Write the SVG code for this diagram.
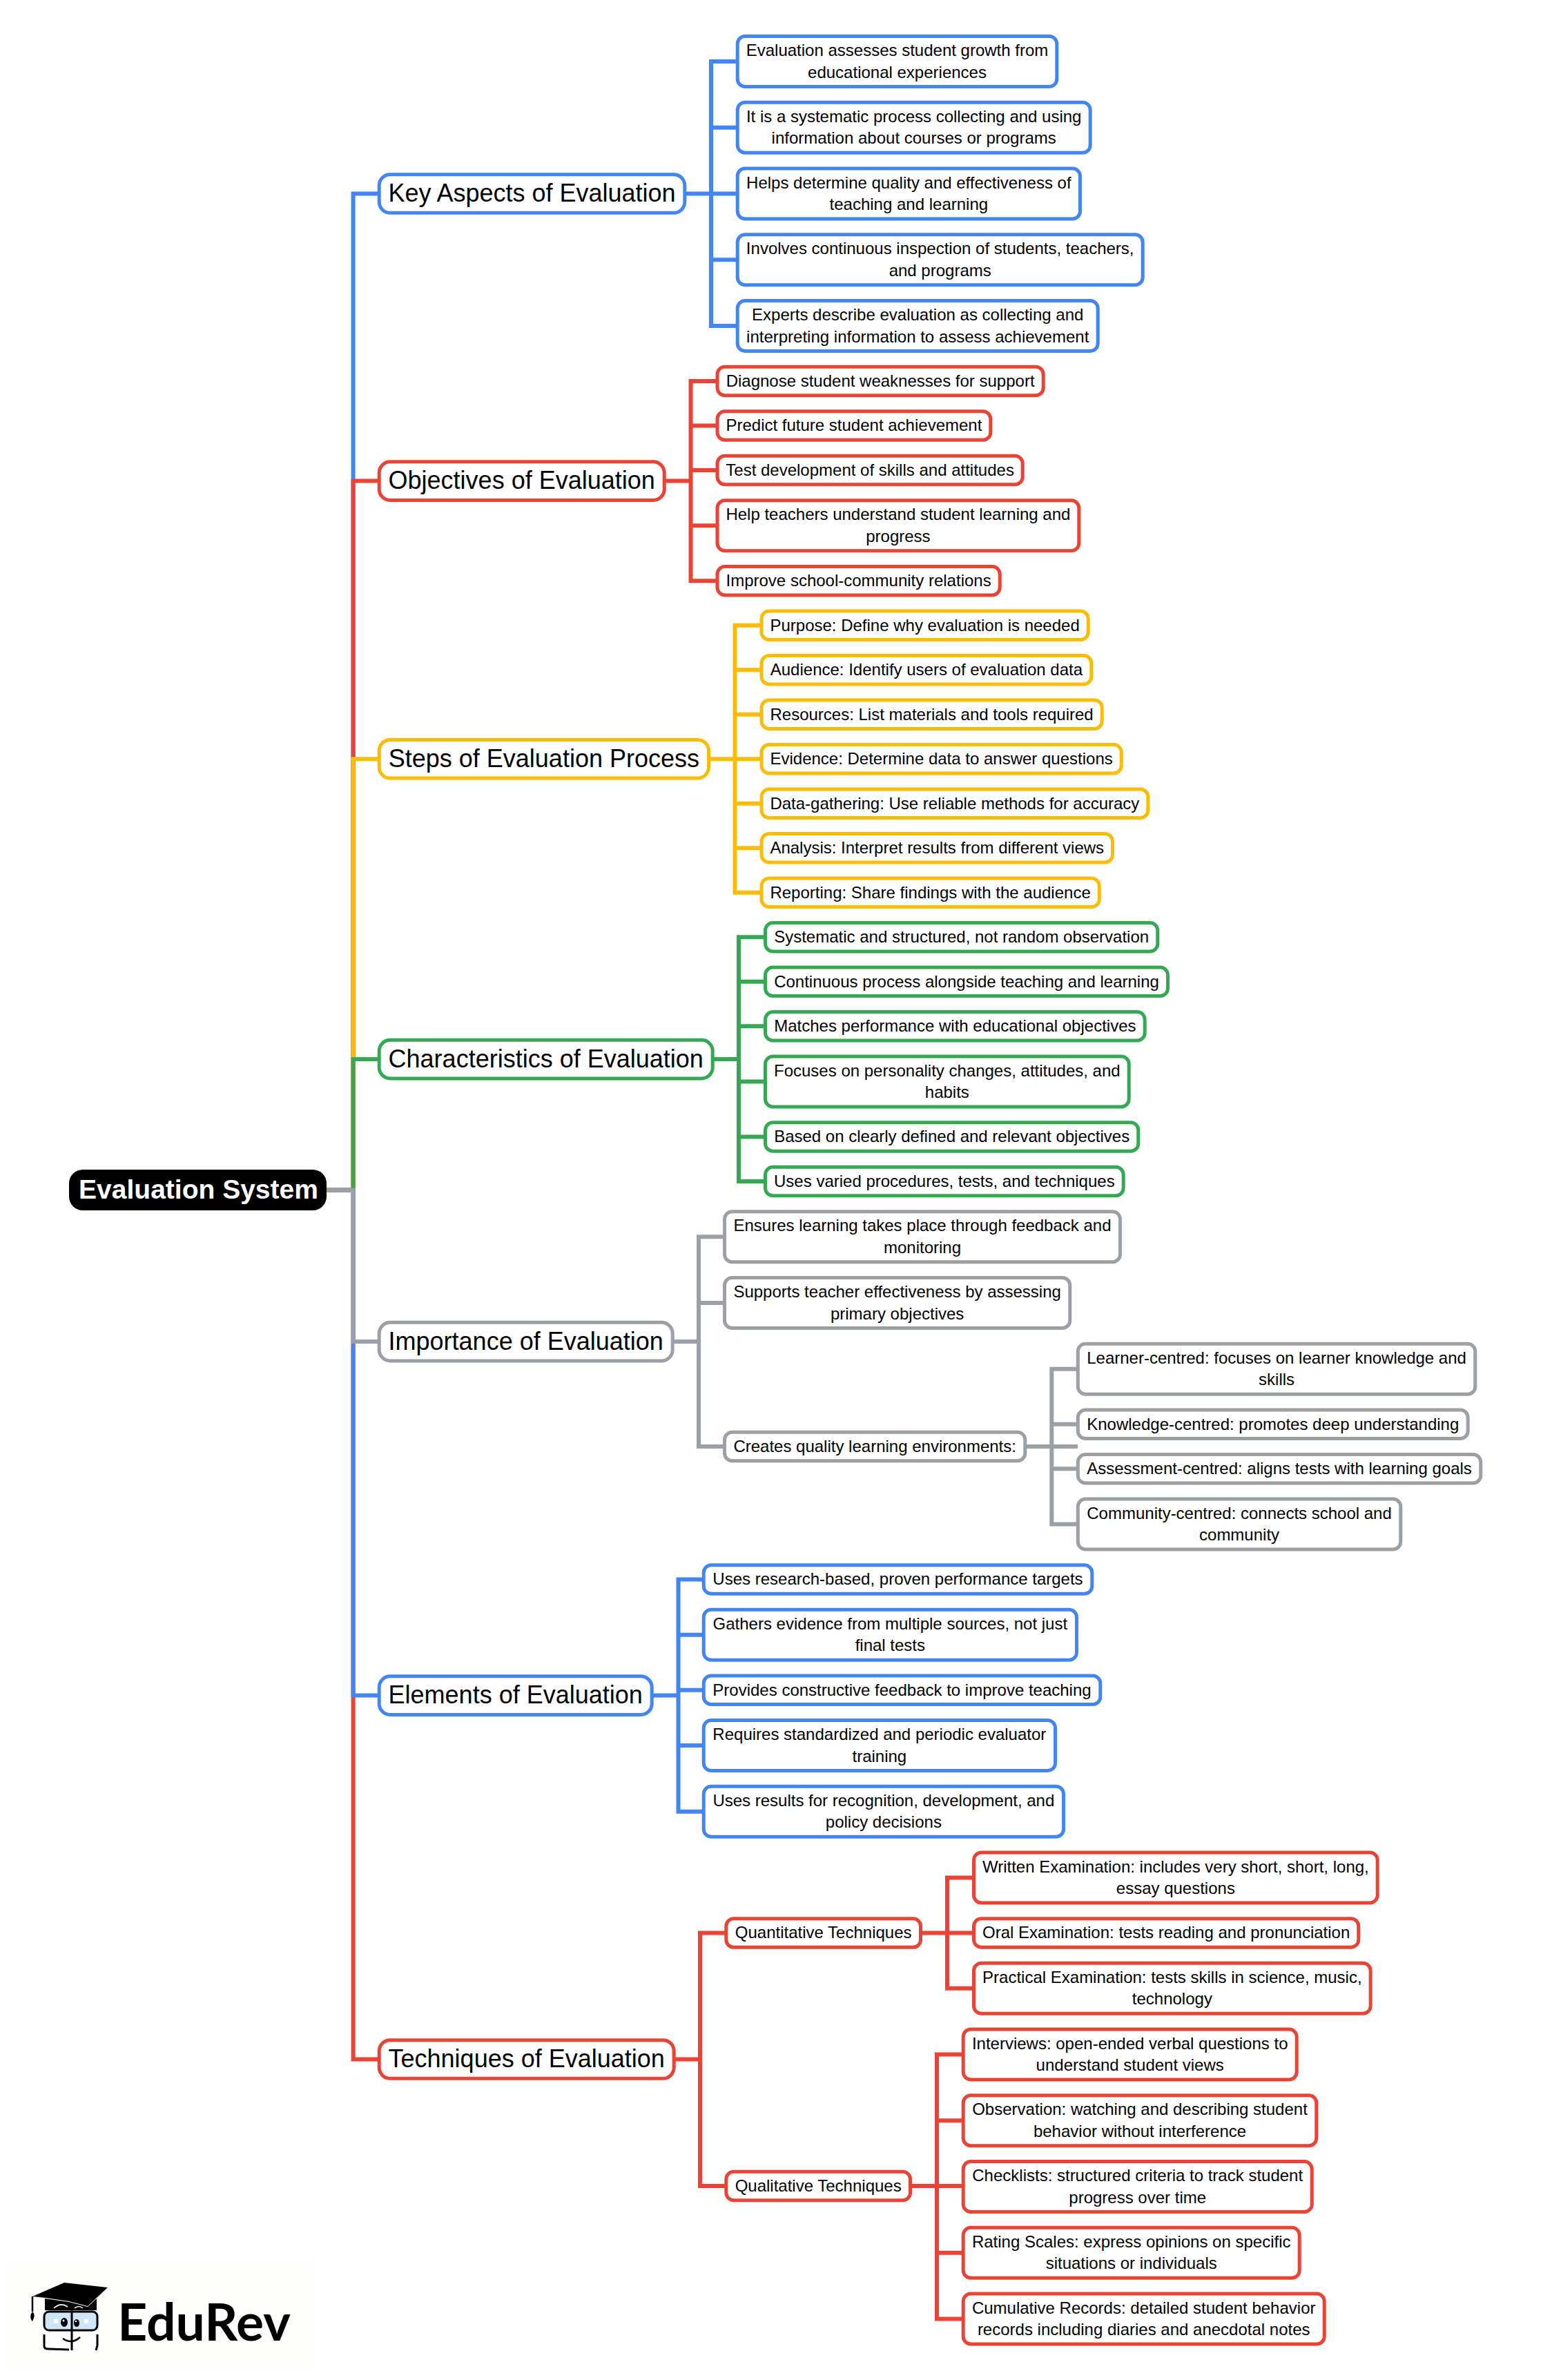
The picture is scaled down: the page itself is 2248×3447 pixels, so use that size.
<svg xmlns="http://www.w3.org/2000/svg" width="2248" height="3447" viewBox="0 0 2248 3447">
<style>
text{font-family:"Liberation Sans",Arial,sans-serif;fill:#000;text-anchor:middle}
.t{font-size:24px}
.m{font-size:36px}
.r{font-size:39px;font-weight:700;fill:#fff}
rect.b{fill:#fff;stroke-width:5;rx:11px;ry:11px}
rect.p{fill:#fff;stroke-width:5;rx:16px;ry:16px}
#connectors path{fill:none;stroke-width:6;stroke-linejoin:miter}
path.blue{stroke:#4285F4}path.red{stroke:#EA4335}path.yellow{stroke:#FBBC05}path.green{stroke:#34A853}path.gray{stroke:#9AA0A6}
g.blue rect{stroke:#4285F4}g.red rect{stroke:#EA4335}g.yellow rect{stroke:#FBBC05}g.green rect{stroke:#34A853}g.gray rect{stroke:#9AA0A6}
</style>
<rect width="2248" height="3447" fill="#fff"/>
<g id="connectors">
<path class="blue" d="M473 1723.7H511.6V280.5H550"/>
<path class="red" d="M473 1723.7H511.6V696.6H550"/>
<path class="yellow" d="M473 1723.7H511.6V1099.25H550"/>
<path class="green" d="M473 1723.7H511.6V1534.1H550"/>
<path class="red" d="M473 1723.7H511.6V2982.5H550"/>
<path class="blue" d="M473 1723.7H511.6V2455.6H550"/>
<path class="gray" d="M473 1723.7H511.6V1943.1H550"/>
<path class="blue" d="M990 280.5H1068M1068 89H1030V472H1068M1030 184.75H1068M1030 376.25H1068"/>
<path class="red" d="M960 696.6H1000.5M1039 552H1000.5V841.25H1039M1000.5 616.5H1039M1000.5 681H1039M1000.5 761.25H1039"/>
<path class="yellow" d="M1025 1099.25H1103M1103 905.75H1064.5V1292.75H1103M1064.5 970.25H1103M1064.5 1034.75H1103M1064.5 1163.75H1103M1064.5 1228.25H1103"/>
<path class="green" d="M1032 1534.1H1070M1108.5 1357.25H1070V1711H1108.5M1070 1421.75H1108.5M1070 1486.25H1108.5M1070 1566.5H1108.5M1070 1646.5H1108.5"/>
<path class="gray" d="M972 1943.1H1012M1050 1791.25H1012V2095H1050M1012 1887H1050"/>
<path class="gray" d="M1485 2095H1561M1561 1982.75H1523.3V2207.5H1561M1523.3 2062.75H1561M1523.3 2127.25H1561"/>
<path class="blue" d="M942 2455.6H982.5M1019 2287.5H982.5V2623.75H1019M982.5 2367.75H1019M982.5 2447.75H1019M982.5 2528H1019"/>
<path class="red" d="M975 2982.5H1014M1052 2799.6H1014V3166H1052"/>
<path class="red" d="M1333 2799.6H1410M1410 2719.5H1372V2879.75H1410"/>
<path class="red" d="M1319 3166H1395M1395 2975.5H1357V3358.5H1395M1357 3071.25H1395M1357 3262.75H1395"/>
</g>
<g id="root"><rect x="100" y="1694" width="373" height="59" rx="20" fill="#000"/><text class="r" x="287.5" y="1736">Evaluation System</text></g>

<g id="key" class="blue"><rect class="p" x="549.2" y="252.65" width="442.6" height="55.7"/><text class="m" x="770.5" y="292">Key Aspects of Evaluation</text></g>
<g id="k1" class="blue"><rect class="b" x="1068.2" y="52.5" width="462.6" height="73"/><text class="t" x="1299.5" y="81">Evaluation assesses student growth from</text><text class="t" x="1299.5" y="112.5">educational experiences</text></g>
<g id="k2" class="blue"><rect class="b" x="1068.2" y="148.25" width="511" height="73"/><text class="t" x="1323.7" y="176.75">It is a systematic process collecting and using</text><text class="t" x="1323.7" y="208.25">information about courses or programs</text></g>
<g id="k3" class="blue"><rect class="b" x="1068.2" y="244" width="496.3" height="73"/><text class="t" x="1316.35" y="272.5">Helps determine quality and effectiveness of</text><text class="t" x="1316.35" y="304">teaching and learning</text></g>
<g id="k4" class="blue"><rect class="b" x="1068.2" y="339.75" width="587" height="73"/><text class="t" x="1361.7" y="368.25">Involves continuous inspection of students, teachers,</text><text class="t" x="1361.7" y="399.75">and programs</text></g>
<g id="k5" class="blue"><rect class="b" x="1068.2" y="435.5" width="522" height="73"/><text class="t" x="1329.2" y="464">Experts describe evaluation as collecting and</text><text class="t" x="1329.2" y="495.5">interpreting information to assess achievement</text></g>

<g id="obj" class="red"><rect class="p" x="549.2" y="668.75" width="413" height="55.7"/><text class="m" x="755.7" y="708.1">Objectives of Evaluation</text></g>
<g id="o1" class="red"><rect class="b" x="1039" y="531.25" width="472.2" height="41.5"/><text class="t" x="1275.1" y="559.75">Diagnose student weaknesses for support</text></g>
<g id="o2" class="red"><rect class="b" x="1039" y="595.75" width="395.8" height="41.5"/><text class="t" x="1236.9" y="624.25">Predict future student achievement</text></g>
<g id="o3" class="red"><rect class="b" x="1039" y="660.25" width="442.2" height="41.5"/><text class="t" x="1260.1" y="688.75">Test development of skills and attitudes</text></g>
<g id="o4" class="red"><rect class="b" x="1039" y="724.75" width="523.8" height="73"/><text class="t" x="1300.9" y="753.25">Help teachers understand student learning and</text><text class="t" x="1300.9" y="784.75">progress</text></g>
<g id="o5" class="red"><rect class="b" x="1039" y="820.5" width="409.2" height="41.5"/><text class="t" x="1243.6" y="849">Improve school-community relations</text></g>

<g id="steps" class="yellow"><rect class="p" x="549.2" y="1071.4" width="477.3" height="55.7"/><text class="m" x="787.85" y="1110.75">Steps of Evaluation Process</text></g>
<g id="s1" class="yellow"><rect class="b" x="1103" y="885" width="473.2" height="41.5"/><text class="t" x="1339.6" y="913.5">Purpose: Define why evaluation is needed</text></g>
<g id="s2" class="yellow"><rect class="b" x="1103" y="949.5" width="477.8" height="41.5"/><text class="t" x="1341.9" y="978">Audience: Identify users of evaluation data</text></g>
<g id="s3" class="yellow"><rect class="b" x="1103" y="1014" width="493.2" height="41.5"/><text class="t" x="1349.6" y="1042.5">Resources: List materials and tools required</text></g>
<g id="s4" class="yellow"><rect class="b" x="1103" y="1078.5" width="521.2" height="41.5"/><text class="t" x="1363.6" y="1107">Evidence: Determine data to answer questions</text></g>
<g id="s5" class="yellow"><rect class="b" x="1103" y="1143" width="559.8" height="41.5"/><text class="t" x="1382.9" y="1171.5">Data-gathering: Use reliable methods for accuracy</text></g>
<g id="s6" class="yellow"><rect class="b" x="1103" y="1207.5" width="508.5" height="41.5"/><text class="t" x="1357.25" y="1236">Analysis: Interpret results from different views</text></g>
<g id="s7" class="yellow"><rect class="b" x="1103" y="1272" width="489.2" height="41.5"/><text class="t" x="1347.6" y="1300.5">Reporting: Share findings with the audience</text></g>

<g id="char" class="green"><rect class="p" x="549.2" y="1506.25" width="483" height="55.7"/><text class="m" x="790.7" y="1545.6">Characteristics of Evaluation</text></g>
<g id="c1" class="green"><rect class="b" x="1108.5" y="1336.5" width="568.3" height="41.5"/><text class="t" x="1392.65" y="1365">Systematic and structured, not random observation</text></g>
<g id="c2" class="green"><rect class="b" x="1108.5" y="1401" width="583" height="41.5"/><text class="t" x="1400" y="1429.5">Continuous process alongside teaching and learning</text></g>
<g id="c3" class="green"><rect class="b" x="1108.5" y="1465.5" width="549.7" height="41.5"/><text class="t" x="1383.35" y="1494">Matches performance with educational objectives</text></g>
<g id="c4" class="green"><rect class="b" x="1108.5" y="1530" width="526.7" height="73"/><text class="t" x="1371.85" y="1558.5">Focuses on personality changes, attitudes, and</text><text class="t" x="1371.85" y="1590">habits</text></g>
<g id="c5" class="green"><rect class="b" x="1108.5" y="1625.75" width="540.3" height="41.5"/><text class="t" x="1378.65" y="1654.25">Based on clearly defined and relevant objectives</text></g>
<g id="c6" class="green"><rect class="b" x="1108.5" y="1690.25" width="518.7" height="41.5"/><text class="t" x="1367.85" y="1718.75">Uses varied procedures, tests, and techniques</text></g>

<g id="imp" class="gray"><rect class="p" x="549.2" y="1915.25" width="425" height="55.7"/><text class="m" x="761.7" y="1954.6">Importance of Evaluation</text></g>
<g id="i1" class="gray"><rect class="b" x="1049.5" y="1754.75" width="573" height="73"/><text class="t" x="1336" y="1783.25">Ensures learning takes place through feedback and</text><text class="t" x="1336" y="1814.75">monitoring</text></g>
<g id="i2" class="gray"><rect class="b" x="1049.5" y="1850.5" width="500.3" height="73"/><text class="t" x="1299.65" y="1879">Supports teacher effectiveness by assessing</text><text class="t" x="1299.65" y="1910.5">primary objectives</text></g>
<g id="i3" class="gray"><rect class="b" x="1049.5" y="2074.25" width="435.3" height="41.5"/><text class="t" x="1267.15" y="2102.75">Creates quality learning environments:</text></g>
<g id="l1" class="gray"><rect class="b" x="1561.3" y="1946.25" width="575.5" height="73"/><text class="t" x="1849.05" y="1974.75">Learner-centred: focuses on learner knowledge and</text><text class="t" x="1849.05" y="2006.25">skills</text></g>
<g id="l2" class="gray"><rect class="b" x="1561.3" y="2042" width="564.9" height="41.5"/><text class="t" x="1843.75" y="2070.5">Knowledge-centred: promotes deep understanding</text></g>
<g id="l3" class="gray"><rect class="b" x="1561.3" y="2106.5" width="583.5" height="41.5"/><text class="t" x="1853.05" y="2135">Assessment-centred: aligns tests with learning goals</text></g>
<g id="l4" class="gray"><rect class="b" x="1561.3" y="2171" width="467.5" height="73"/><text class="t" x="1795.05" y="2199.5">Community-centred: connects school and</text><text class="t" x="1795.05" y="2231">community</text></g>

<g id="elem" class="blue"><rect class="p" x="549.2" y="2427.75" width="395" height="55.7"/><text class="m" x="746.7" y="2467.1">Elements of Evaluation</text></g>
<g id="e1" class="blue"><rect class="b" x="1019.2" y="2266.75" width="562.6" height="41.5"/><text class="t" x="1300.5" y="2295.25">Uses research-based, proven performance targets</text></g>
<g id="e2" class="blue"><rect class="b" x="1019.2" y="2331.25" width="540.3" height="73"/><text class="t" x="1289.35" y="2359.75">Gathers evidence from multiple sources, not just</text><text class="t" x="1289.35" y="2391.25">final tests</text></g>
<g id="e3" class="blue"><rect class="b" x="1019.2" y="2427" width="574.6" height="41.5"/><text class="t" x="1306.5" y="2455.5">Provides constructive feedback to improve teaching</text></g>
<g id="e4" class="blue"><rect class="b" x="1019.2" y="2491.5" width="509.3" height="73"/><text class="t" x="1273.85" y="2520">Requires standardized and periodic evaluator</text><text class="t" x="1273.85" y="2551.5">training</text></g>
<g id="e5" class="blue"><rect class="b" x="1019.2" y="2587.25" width="521.3" height="73"/><text class="t" x="1279.85" y="2615.75">Uses results for recognition, development, and</text><text class="t" x="1279.85" y="2647.25">policy decisions</text></g>

<g id="tech" class="red"><rect class="p" x="549.2" y="2954.65" width="427" height="55.7"/><text class="m" x="762.7" y="2994">Techniques of Evaluation</text></g>
<g id="quant" class="red"><rect class="b" x="1051.8" y="2778.85" width="281.7" height="41.5"/><text class="t" x="1192.65" y="2807.35">Quantitative Techniques</text></g>
<g id="w1" class="red"><rect class="b" x="1410.5" y="2683" width="584.7" height="73"/><text class="t" x="1702.85" y="2711.5">Written Examination: includes very short, short, long,</text><text class="t" x="1702.85" y="2743">essay questions</text></g>
<g id="w2" class="red"><rect class="b" x="1410.5" y="2778.75" width="557.3" height="41.5"/><text class="t" x="1689.15" y="2807.25">Oral Examination: tests reading and pronunciation</text></g>
<g id="w3" class="red"><rect class="b" x="1410.5" y="2843.25" width="574.7" height="73"/><text class="t" x="1697.85" y="2871.75">Practical Examination: tests skills in science, music,</text><text class="t" x="1697.85" y="2903.25">technology</text></g>
<g id="qual" class="red"><rect class="b" x="1051.8" y="3145.25" width="266.7" height="41.5"/><text class="t" x="1185.15" y="3173.75">Qualitative Techniques</text></g>
<g id="q1" class="red"><rect class="b" x="1395.2" y="2939" width="483" height="73"/><text class="t" x="1636.7" y="2967.5">Interviews: open-ended verbal questions to</text><text class="t" x="1636.7" y="2999">understand student views</text></g>
<g id="q2" class="red"><rect class="b" x="1395.2" y="3034.75" width="511.6" height="73"/><text class="t" x="1651" y="3063.25">Observation: watching and describing student</text><text class="t" x="1651" y="3094.75">behavior without interference</text></g>
<g id="q3" class="red"><rect class="b" x="1395.2" y="3130.5" width="505" height="73"/><text class="t" x="1647.7" y="3159">Checklists: structured criteria to track student</text><text class="t" x="1647.7" y="3190.5">progress over time</text></g>
<g id="q4" class="red"><rect class="b" x="1395.2" y="3226.25" width="487" height="73"/><text class="t" x="1638.7" y="3254.75">Rating Scales: express opinions on specific</text><text class="t" x="1638.7" y="3286.25">situations or individuals</text></g>
<g id="q5" class="red"><rect class="b" x="1395.2" y="3322" width="523" height="73"/><text class="t" x="1656.7" y="3350.5">Cumulative Records: detailed student behavior</text><text class="t" x="1656.7" y="3382">records including diaries and anecdotal notes</text></g>

<g id="logo">
<rect x="10" y="3275" width="445" height="155" fill="#fefefd"/>
<path d="M47 3326L93 3306L156 3313L127 3340L100 3333L66 3328Z" fill="#000"/>
<path d="M65 3329L100 3334L127 3341L140 3329V3346H65Z" fill="#000"/>
<path d="M78 3343Q88 3334 98 3341M108 3343Q114 3338 120 3343" fill="none" stroke="#fff" stroke-width="1.6"/>
<path d="M47 3326V3348" stroke="#000" stroke-width="2.5" fill="none"/>
<path d="M47 3348C44 3352 43 3356 46 3361L47 3362C50 3356 51 3352 47 3348Z" fill="#000"/>
<rect x="64" y="3348" width="77" height="27" rx="7" fill="#cfe6f6" stroke="#000" stroke-width="3"/>
<path d="M64 3381V3398Q64 3402 70 3402L100 3403M141 3381V3397L139 3404M104 3345V3404" fill="none" stroke="#000" stroke-width="3"/>
<ellipse cx="93" cy="3363.5" rx="5" ry="6.5" fill="#000"/><ellipse cx="111" cy="3364.5" rx="4" ry="5.5" fill="#000"/>
<circle cx="92" cy="3361" r="1.5" fill="#fff"/><circle cx="110" cy="3362" r="1.3" fill="#fff"/>
<path d="M78 3359h6v6h-6zM122 3359h6v6h-6z" fill="#fff"/>
<path d="M91 3387Q104 3396 116 3385" fill="none" stroke="#000" stroke-width="2.5"/>
<text x="295.5" y="3390" style="font-family:Lato,'Liberation Sans',sans-serif;font-weight:700;font-size:75px">EduRev</text>
</g>
</svg>
